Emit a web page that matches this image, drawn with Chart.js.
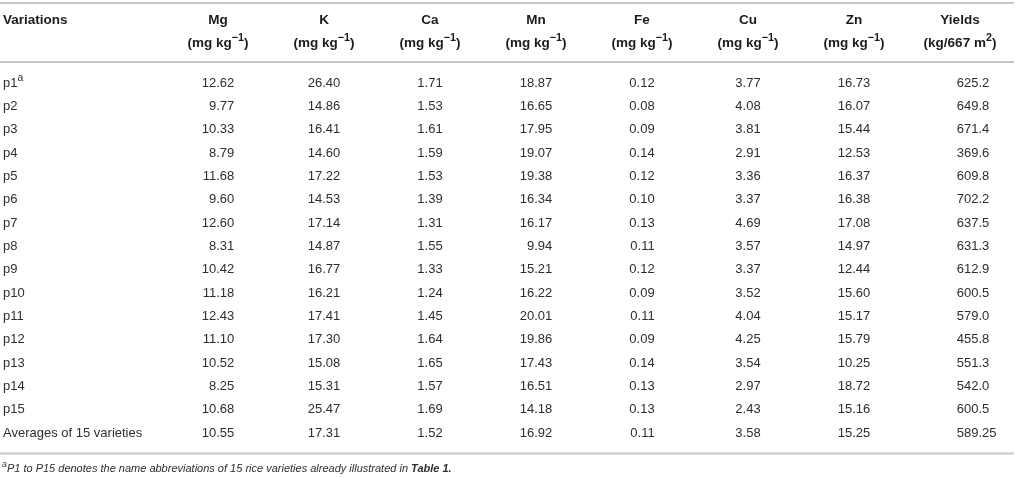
<!DOCTYPE html>
<html>
<head>
<meta charset="utf-8">
<script src="https://cdn.jsdelivr.net/npm/chart.js@4.4.1/dist/chart.umd.min.js"></script>
<style>
  html, body { margin: 0; padding: 0; background: #fff; }
  #wrap { width: 1016px; height: 478px; position: relative; }
</style>
</head>
<body>
<div id="wrap"><canvas id="tableChart"></canvas></div>
<script>
// table values
const varieties = ['p1', 'p2', 'p3', 'p4', 'p5', 'p6', 'p7', 'p8', 'p9', 'p10',
                   'p11', 'p12', 'p13', 'p14', 'p15', 'Averages of 15 varieties'];
const columns = ['Mg', 'K', 'Ca', 'Mn', 'Fe', 'Cu', 'Zn', 'Yields'];
const units = ['mg kg', 'mg kg', 'mg kg', 'mg kg', 'mg kg', 'mg kg', 'mg kg', 'kg/667 m'];
const unitSup = ['−1', '−1', '−1', '−1', '−1', '−1', '−1', '2'];

const mg = [12.62, 9.77, 10.33, 8.79, 11.68, 9.60, 12.60, 8.31, 10.42, 11.18, 12.43, 11.10, 10.52, 8.25, 10.68, 10.55];
const k  = [26.40, 14.86, 16.41, 14.60, 17.22, 14.53, 17.14, 14.87, 16.77, 16.21, 17.41, 17.30, 15.08, 15.31, 25.47, 17.31];
const ca = [1.71, 1.53, 1.61, 1.59, 1.53, 1.39, 1.31, 1.55, 1.33, 1.24, 1.45, 1.64, 1.65, 1.57, 1.69, 1.52];
const mn = [18.87, 16.65, 17.95, 19.07, 19.38, 16.34, 16.17, 9.94, 15.21, 16.22, 20.01, 19.86, 17.43, 16.51, 14.18, 16.92];
const fe = [0.12, 0.08, 0.09, 0.14, 0.12, 0.10, 0.13, 0.11, 0.12, 0.09, 0.11, 0.09, 0.14, 0.13, 0.13, 0.11];
const cu = [3.77, 4.08, 3.81, 2.91, 3.36, 3.37, 4.69, 3.57, 3.37, 3.52, 4.04, 4.25, 3.54, 2.97, 2.43, 3.58];
const zn = [16.73, 16.07, 15.44, 12.53, 16.37, 16.38, 17.08, 14.97, 12.44, 15.60, 15.17, 15.79, 10.25, 18.72, 15.16, 15.25];
const yields = [625.2, 649.8, 671.4, 369.6, 609.8, 702.2, 637.5, 631.3, 612.9, 600.5, 579.0, 455.8, 551.3, 542.0, 600.5, 589.25];

const footnote = 'P1 to P15 denotes the name abbreviations of 15 rice varieties already illustrated in ';
const footnoteRef = 'Table 1.';

const values = [mg, k, ca, mn, fe, cu, zn, yields];

function fmt(col, v) {
    if (col === 7) {
        return Math.round(v * 10) === v * 10 ? v.toFixed(1) : v.toFixed(2);
    }
    return v.toFixed(2);
}

const FONT = '"Liberation Sans", Arial, Helvetica, sans-serif';
const textColor = '#2e2e2e';
const headColor = '#1c1c1c';
const ruleColor = '#c6c6c6';
const SUP = 0.8;

// width of text pieces with superscripts
function richWidth(ctx, parts, size, weight, style) {
    let w = 0;
    parts.forEach(p => {
        ctx.font = (style || '') + ' ' + (p.bold ? 'bold' : weight) + ' ' + (p.sup ? size * SUP : size) + 'px ' + FONT;
        w += ctx.measureText(p.t).width;
    });
    return w;
}

function drawRich(ctx, parts, x, y, size, weight, align, style) {
    const w = richWidth(ctx, parts, size, weight, style);
    let cx = align === 'center' ? x - w / 2 : (align === 'right' ? x - w : x);
    ctx.textAlign = 'left';
    ctx.textBaseline = 'middle';
    parts.forEach(p => {
        const sz = p.sup ? size * SUP : size;
        ctx.font = (style || '') + ' ' + (p.bold ? 'bold' : weight) + ' ' + sz + 'px ' + FONT;
        ctx.fillText(p.t, cx, p.sup ? y - size * 0.36 : y);
        cx += ctx.measureText(p.t).width;
    });
}

const tablePlugin = {
    id: 'tablePlugin',
    afterDraw(chart) {
        const ctx = chart.ctx;
        const xs = chart.scales.x;
        const ys = chart.scales.y;
        const W = chart.width;
        ctx.save();

        // rules
        ctx.strokeStyle = ruleColor;
        ctx.lineWidth = 2;
        const rowGap = ys.getPixelForValue(1) - ys.getPixelForValue(0);
        const ruleTop = 3;
        const ruleHead = ys.getPixelForValue(0) - rowGap * 0.9;
        const ruleBottom = ys.getPixelForValue(varieties.length - 1) + rowGap * 0.88;
        [ruleTop, ruleHead, ruleBottom].forEach(y => {
            ctx.beginPath();
            ctx.moveTo(0, y);
            ctx.lineTo(W - 2, y);
            ctx.stroke();
        });

        // header
        const h1 = 20, h2 = 43;
        ctx.fillStyle = headColor;
        drawRich(ctx, [{t: 'Variations'}], 3, h1, 13.5, 'bold', 'left');
        columns.forEach((c, i) => {
            const x = xs.getPixelForValue(i);
            drawRich(ctx, [{t: c}], x, h1, 13.5, 'bold', 'center');
            drawRich(ctx, [{t: '(' + units[i]}, {t: unitSup[i], sup: true}, {t: ')'}], x, h2, 13.5, 'bold', 'center');
        });

        // body
        ctx.fillStyle = textColor;
        varieties.forEach((name, r) => {
            const y = ys.getPixelForValue(r);
            const parts = r === 0 ? [{t: name}, {t: 'a', sup: true}] : [{t: name}];
            drawRich(ctx, parts, 3, y, 13, 'normal', 'left');
            values.forEach((arr, c) => {
                const x = xs.getPixelForValue(c);
                ctx.font = 'normal 13px ' + FONT;
                const ref = ctx.measureText(fmt(c, arr[0])).width;
                if (c === 7) {
                    drawRich(ctx, [{t: fmt(c, arr[r])}], x + 13 - ref / 2, y, 13, 'normal', 'left');
                } else {
                    drawRich(ctx, [{t: fmt(c, arr[r])}], x + ref / 2, y, 13, 'normal', 'right');
                }
            });
        });

        // footnote
        const fy = ruleBottom + 15;
        drawRich(ctx, [{t: 'a', sup: true}, {t: footnote}, {t: footnoteRef, bold: true}], 2, fy, 11, 'normal', 'left', 'italic');
        ctx.restore();
    }
};

new Chart(document.getElementById('tableChart').getContext('2d'), {
    type: 'scatter',
    data: {
        labels: columns,
        datasets: []
    },
    options: {
        responsive: true,
        maintainAspectRatio: false,
        animation: false,
        events: [],
        layout: {
            padding: { left: 218, right: 56, top: 83, bottom: 45 }
        },
        plugins: {
            legend: { display: false },
            tooltip: { enabled: false }
        },
        scales: {
            x: { type: 'category', labels: columns, offset: false, display: false },
            y: { type: 'category', labels: varieties, offset: false, display: false }
        }
    },
    plugins: [tablePlugin]
});
</script>
</body>
</html>
